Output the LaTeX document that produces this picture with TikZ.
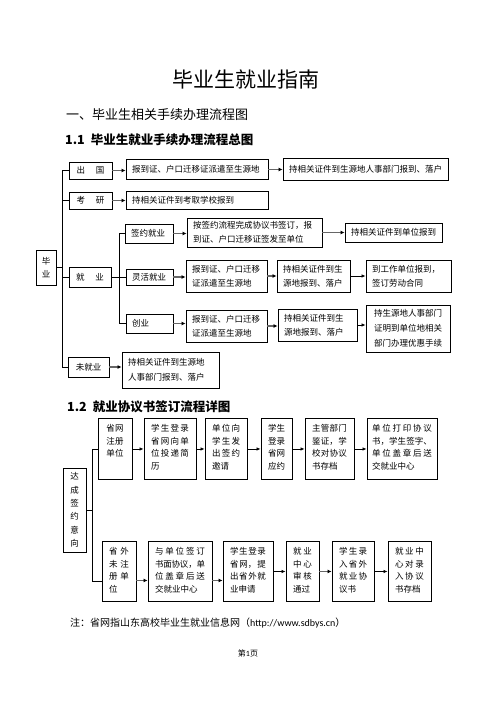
\documentclass[tikz,border=0pt]{standalone}
\usepackage{fontspec}
\setmainfont{Noto Sans CJK SC}
\newfontfamily\latfont{Carlito}
\usetikzlibrary{arrows.meta}

\newcommand\cellfont{\fontsize{8.5}{14}\selectfont}
\newcommand\colfont{\fontsize{8.5}{12.7}\selectfont
  \XeTeXlinebreaklocale "zh"\XeTeXlinebreakskip=0pt plus 3pt minus 0.5pt\relax}

\begin{document}
\begin{tikzpicture}[x=1pt,y=-1pt,
    box/.style={draw,line width=0.9pt,inner xsep=6pt,inner ysep=0pt,align=left,font=\cellfont},
    mid/.style={box,align=center,inner xsep=0pt},
    col/.style={draw,line width=0.9pt,anchor=north,inner xsep=7pt,inner ysep=0pt,
      align=justify,font=\colfont,text height=13pt},
    tree/.style={line width=0.8pt},
    arr/.style={draw=black!60,line width=1.4pt,-{Latex[length=4pt,width=4pt,color=black]}},
    arrt/.style={line width=0.7pt,-{Latex[length=4pt,width=3.5pt]}},
  ]
  \useasboundingbox (0,0) rectangle (496,702);

  \node (title) at (246,80) {\fontsize{21}{21}\selectfont 毕业生就业指南};
  \node[anchor=west,inner sep=0pt] (h1) at (66,115) {\fontsize{13}{13}\selectfont 一、毕业生相关手续办理流程图};
  \node[anchor=west,inner sep=0pt] (h11) at (65,140) {\fontsize{12.5}{12.5}\selectfont\bfseries 1.1\hspace{6pt}毕业生就业手续办理流程总图};

  % first chart
  \node[mid,minimum width=20pt,minimum height=35pt,font=\fontsize{8.5}{13}\selectfont] (by) at (46,267.5) {毕\\业};
  \node[mid,minimum width=43pt,minimum height=17pt] (cg) at (90.5,170.5) {出\hspace{11pt}国};
  \node[mid,minimum width=43pt,minimum height=17pt] (ky) at (90.5,200.5) {考\hspace{11pt}研};
  \node[mid,minimum width=42pt,minimum height=20pt] (jy) at (90,277) {就\hspace{11pt}业};
  \node[mid,minimum width=41pt,minimum height=20pt] (wj) at (88.5,367) {未就业};

  \node[box,text width=130pt,minimum height=20pt] (c1) at (197,169.5) {报到证、户口迁移证派遣至生源地};
  \node[box,text width=153pt,minimum height=22pt] (c2) at (365.5,169) {持相关证件到生源地人事部门报到、落户};
  \node[box,text width=130pt,minimum height=18pt] (k1) at (197,200) {持相关证件到考取学校报到};

  \node[box,text width=36pt,minimum height=19pt] (q0) at (149,233.5) {签约就业};
  \node[box,text width=123pt,minimum height=29pt] (q1) at (254.5,232.5) {按签约流程完成协议书签订，报\\到证、户口迁移证签发至单位};
  \node[box,text width=85pt,minimum height=19pt] (q2) at (393.5,232.5) {持相关证件到单位报到};

  \node[box,text width=35pt,minimum height=16pt] (l0) at (149.5,277) {灵活就业};
  \node[box,text width=69pt,minimum height=32pt] (l1) at (226.5,276) {报到证、户口迁移\\证派遣至生源地};
  \node[box,text width=61pt,minimum height=32pt] (l2) at (313.5,276) {持相关证件到生\\源地报到、落户};
  \node[box,text width=73pt,minimum height=32pt] (l3) at (408.5,276) {到工作单位报到，\\签订劳动合同};

  \node[box,text width=35pt,minimum height=19pt] (y0) at (149.5,323.5) {创业};
  \node[box,text width=69pt,minimum height=32pt] (y1) at (226.5,326) {报到证、户口迁移\\证派遣至生源地};
  \node[box,text width=67pt,minimum height=32pt] (y2) at (317.5,325) {持相关证件到生\\源地报到、落户};
  \node[mid,minimum width=84pt,minimum height=47pt,font=\fontsize{8.5}{15}\selectfont] (y3) at (408,328.5) {持生源地人事部门\\证明到单位地相关\\部门办理优惠手续};

  \node[box,text width=85pt,minimum height=36pt,font=\fontsize{8.5}{15}\selectfont] (n1) at (170.5,370) {持相关证件到生源地\\人事部门报到、落户};

  \coordinate (tr) at (62,267.5);
  \coordinate (st) at (119,277);
  \draw[tree] (by.east) -- (tr);
  \draw[tree] (cg.west) -| (tr);
  \draw[tree] (ky.west) -| (tr);
  \draw[tree] (jy.west) -| (tr);
  \draw[tree] (wj.west) -| (tr);
  \draw[tree] (jy.east) -- (st);
  \draw[tree] (q0.west) -| (st);
  \draw[tree] (l0.west) -| (st);
  \draw[tree] (y0.west) -| (st);

  \foreach \a/\b in {cg/c1,c1/c2,ky/k1,q0/q1,q1/q2,l0/l1,l1/l2,y0/y1,y1/y2,wj/n1}
    \draw[arr] (\a.east) -- (\a.east -| \b.west);
  \foreach \a/\b in {l2/l3,y2/y3}
    \draw[arrt] (\a.east) -- (\a.east -| \b.west);

  % second chart
  \node[anchor=west,inner sep=0pt] (h12) at (67,407) {\fontsize{12.5}{12.5}\selectfont\bfseries 1.2\hspace{6pt}就业协议书签订流程详图};

  \node[mid,minimum width=23pt,minimum height=84pt,font=\fontsize{8.5}{13.3}\selectfont] (dc) at (74.5,510) {达\\成\\签\\约\\意\\向};

  \node[col,align=center,text width=20pt,text depth=48pt] (s1) at (115,418) {省网\\注册\\单位};
  \node[col,text width=38pt,text depth=48pt] (s2) at (170,418) {学生登录\linebreak 省网向单\linebreak 位投递简\linebreak 历};
  \node[col,text width=28pt,text depth=48pt] (s3) at (226,418) {单位向\linebreak 学生发\linebreak 出签约\linebreak 邀请};
  \node[col,text width=17pt,text depth=48pt] (s4) at (276.5,418) {学生\linebreak 登录\linebreak 省网\linebreak 应约};
  \node[col,text width=35pt,text depth=48pt] (s5) at (329.5,418) {主管部门\linebreak 鉴证，学\linebreak 校对协议\linebreak 书存档};
  \node[col,inner xsep=5pt,text width=60pt,text depth=48pt] (s6) at (402,418) {单位打印协议\linebreak 书，学生签字、\linebreak 单位盖章后送\linebreak 交就业中心};

  \node[col,text width=20pt,text depth=47pt] (w1) at (119,541) {省外\linebreak 未注\linebreak 册单\linebreak 位};
  \node[col,text width=50pt,text depth=47pt] (w2) at (180,541) {与单位签订\linebreak 书面协议，单\linebreak 位盖章后送\linebreak 交就业中心};
  \node[col,text width=36pt,text depth=47pt] (w3) at (248,541) {学生登录\linebreak 省网，提\linebreak 出省外就\linebreak 业申请};
  \node[col,text width=19pt,text depth=47pt] (w4) at (302.5,541) {就业\linebreak 中心\linebreak 审核\linebreak 通过};
  \node[col,text width=28pt,text depth=47pt] (w5) at (353,541) {学生录\linebreak 入省外\linebreak 就业协\linebreak 议书};
  \node[col,text width=29pt,text depth=47pt] (w6) at (409.5,541) {就业中\linebreak 心对录\linebreak 入协议\linebreak 书存档};

  \coordinate (dt) at (92,510);
  \draw[tree] (dc.east) -- (dt);
  \draw[tree] (s1.west) -| (dt);
  \draw[tree] ([yshift=-10pt]w1.west) -| (dt);

  \foreach \a/\b in {s1/s2,s2/s3,s3/s4,s4/s5,s5/s6}
    \draw[arrt] (\a) -- (\b);
  \draw[arr] ([yshift=-9pt]w1.east) -- ([yshift=-9pt]w2.west);
  \draw[arr] ([yshift=-9pt]w2.east) -- ([yshift=-9pt]w3.west);
  \draw[arrt] (w3) -- (w4);
  \draw[arr] (w4) -- (w5);
  \draw[arrt] (w5) -- (w6);

  \node[anchor=west,inner sep=0pt] (note) at (70,623) {\fontsize{10}{10}\selectfont 注：省网指山东高校毕业生就业信息网（{\latfont http://www.sdbys.cn}）};
  \node[inner sep=0pt] (page) at (248,653) {\fontsize{8}{8}\selectfont 第{\latfont 1}页};
\end{tikzpicture}
\end{document}
